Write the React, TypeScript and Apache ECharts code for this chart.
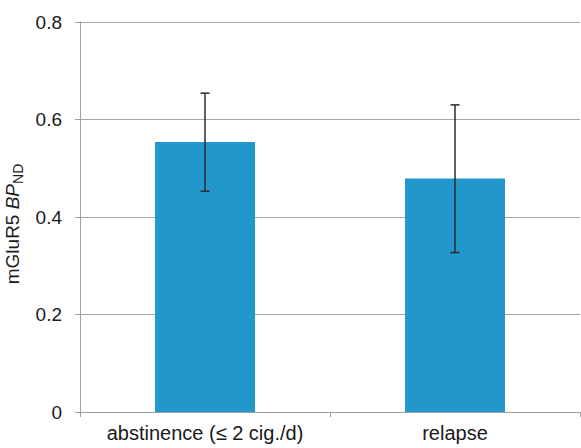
import React, { useEffect, useRef } from "react";
import * as echarts from "echarts";

const categories = ["abstinence (≤ 2 cig./d)", "relapse"];
const means = [0.554, 0.479];
const errLow = [0.453, 0.327];
const errHigh = [0.654, 0.63];
const yTicks = [0, 0.2, 0.4, 0.6, 0.8];

const FONT = "'Liberation Sans', Arial, Helvetica, sans-serif";

export default function App() {
  const ref = useRef<HTMLDivElement>(null);
  useEffect(() => {
    if (!ref.current) return;
    const chart = echarts.init(ref.current, null, { renderer: "svg" });
    const errData = categories.map((_, i) => [i, errLow[i], errHigh[i]]);
    chart.setOption({
      animation: false,
      backgroundColor: "#ffffff",
      textStyle: { fontFamily: FONT },
      grid: { left: 80, right: 1, top: 22, bottom: 36, containLabel: false, outerBoundsMode: "none" },
      xAxis: {
        type: "category",
        data: categories,
        axisLine: { show: true, lineStyle: { color: "#a0a0a0", width: 1 } },
        axisTick: { show: true, alignWithLabel: false, length: 5, lineStyle: { color: "#a0a0a0" } },
        axisLabel: { color: "#1a1a1a", fontSize: 20, margin: 11, interval: 0, hideOverlap: false, fontFamily: FONT },
        splitLine: { show: false },
      },
      yAxis: {
        type: "value",
        min: yTicks[0],
        max: yTicks[yTicks.length - 1],
        interval: 0.2,
        axisLine: { show: true, lineStyle: { color: "#a0a0a0", width: 1 } },
        axisTick: { show: true, length: 5, lineStyle: { color: "#a0a0a0" } },
        axisLabel: {
          color: "#1a1a1a",
          fontSize: 19,
          margin: 18,
          fontFamily: FONT,
          formatter: (v: number) => (v === 0 ? "0" : v.toFixed(1)),
        },
        splitLine: { show: true, lineStyle: { color: "#a6a6a6", width: 1 } },
        name: "{n|mGluR5 }{i|BP}{s|ND}",
        nameLocation: "middle",
        nameRotate: 90,
        nameGap: 53,
        nameTextStyle: {
          fontFamily: FONT,
          color: "#1a1a1a",
          padding: [0, 14, 0, 0],
          rich: {
            n: { fontSize: 19, fontFamily: FONT, color: "#1a1a1a" },
            i: { fontSize: 19, fontStyle: "italic", fontFamily: FONT, color: "#1a1a1a" },
            s: { fontSize: 14, fontFamily: FONT, color: "#1a1a1a", padding: [10, 0, 0, 0] },
          },
        },
      },
      series: [
        {
          type: "bar",
          data: means,
          barWidth: "40%",
          itemStyle: { color: "#2197cc" },
        },
        {
          type: "custom",
          data: errData,
          z: 10,
          renderItem: (params: any, api: any) => {
            const idx = api.value(0);
            const lo = api.coord([idx, api.value(1)]);
            const hi = api.coord([idx, api.value(2)]);
            const hw = 4.5;
            const style = { stroke: "#2b2b2b", lineWidth: 1.5 };
            return {
              type: "group",
              children: [
                { type: "line", shape: { x1: lo[0], y1: lo[1], x2: hi[0], y2: hi[1] }, style },
                { type: "line", shape: { x1: hi[0] - hw, y1: hi[1], x2: hi[0] + hw, y2: hi[1] }, style },
                { type: "line", shape: { x1: lo[0] - hw, y1: lo[1], x2: lo[0] + hw, y2: lo[1] }, style },
              ],
            };
          },
        },
      ],
    });
    return () => chart.dispose();
  }, []);
  return (
    <div
      ref={ref}
      style={{ position: "fixed", left: 0, top: 0, width: 581, height: 448 }}
    />
  );
}
